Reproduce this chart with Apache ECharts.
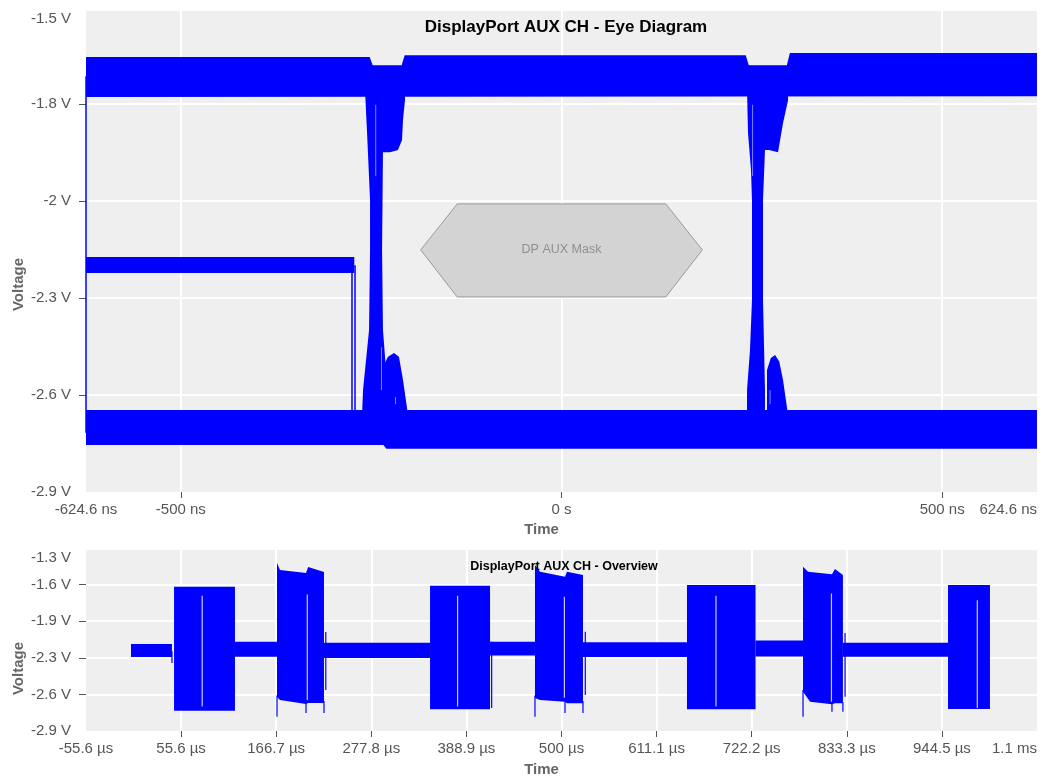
<!DOCTYPE html>
<html><head><meta charset="utf-8">
<script src="https://cdn.jsdelivr.net/npm/echarts@6/dist/echarts.min.js"></script>
<style>html,body{margin:0;padding:0;background:#fff}#c{width:1045px;height:778px}</style>
</head><body><div id="c"></div>
<script>
// ---------- Eye diagram (time in ns, voltage in V) ----------
const eyeXRange = [-624.6, 624.6];
const eyeYRange = [-2.866, -1.517];
const eyeXTicks = [-500, 0, 500];
const eyeXLabelVals = [-624.6, -500, 0, 500, 624.6];
const eyeXLabels = ['-624.6 ns', '-500 ns', '0 s', '500 ns', '624.6 ns'];
const eyeYTicks = [-2.594, -2.322, -2.05, -1.778];
const eyeYLabelVals = [-2.866, -2.594, -2.322, -2.05, -1.778, -1.517];
const eyeYLabels = ['-2.9 V', '-2.6 V', '-2.3 V', '-2 V', '-1.8 V', '-1.5 V'];

const eyeUpperRail = [[-624.6,-1.646],[-252,-1.646],[-248,-1.669],[-210,-1.669],[-206,-1.641],[242,-1.641],[246,-1.669],[296,-1.669],[300,-1.635],[624.6,-1.635],[624.6,-1.756],[-624.6,-1.758]];
const eyeLowerRail = [[-624.6,-2.636],[624.6,-2.636],[624.6,-2.745],[-230,-2.745],[-234,-2.734],[-624.6,-2.734]];
const eyeIdleBand = [[-624.6,-2.207],[-272.2,-2.207],[-272.2,-2.252],[-624.6,-2.252]];
const eyeEdge1 = [[-258.1,-1.739],[-234.5,-1.739],[-234.5,-1.907],[-235.7,-2.187],[-234.5,-2.412],[-230.5,-2.524],[-230.5,-2.650],[-262.0,-2.650],[-260.7,-2.580],[-252.8,-2.412],[-251.5,-2.187],[-251.5,-2.047],[-255.4,-1.859]];
const eyeRingTop1 = [[-234.5,-1.739],[-205.6,-1.739],[-205.6,-1.767],[-208.2,-1.823],[-209.5,-1.879],[-214.8,-1.907],[-225.3,-1.913],[-234.5,-1.913]];
const eyeRingBot1 = [[-233.2,-2.650],[-233.2,-2.510],[-227.9,-2.487],[-220.0,-2.476],[-213.5,-2.487],[-208.2,-2.552],[-201.6,-2.650]];
const eyeEdge2 = [[243.7,-1.739],[267.3,-1.739],[267.3,-1.907],[264.7,-2.047],[264.7,-2.328],[267.3,-2.580],[267.3,-2.650],[243.7,-2.650],[243.7,-2.580],[247.6,-2.468],[250.2,-2.328],[250.2,-2.047],[248.9,-1.963],[245.0,-1.859]];
const eyeRingTop2 = [[267.3,-1.739],[297.6,-1.739],[297.6,-1.767],[291.0,-1.831],[284.4,-1.913],[272.6,-1.907],[267.3,-1.907]];
const eyeRingBot2 = [[269.9,-2.650],[269.9,-2.524],[275.0,-2.490],[280.5,-2.482],[286.0,-2.500],[291.0,-2.552],[297.6,-2.650]];
// thin vertical traces: [time, vTop, vBottom]
const eyeThinLines = [[-624.6,-1.70,-2.70],[-275.2,-2.23,-2.64],[-271.2,-2.23,-2.64]];
// light gaps inside the edges: [time, vTop, vBottom]
const eyeGapLines = [[-244.0,-1.78,-1.98],[-236.5,-2.46,-2.58],[-218.0,-2.60,-2.62],[251.0,-1.78,-1.98],[274.0,-2.58,-2.62]];
const maskPoly = [[-185,-2.187],[-137,-2.058],[137,-2.058],[185,-2.187],[137,-2.319],[-137,-2.319]];
const maskLabel = 'DP AUX Mask';

// ---------- Overview (time in µs, voltage in V) ----------
const ovXRange = [-55.556, 1055.556];
const ovYRange = [-2.92, -1.288];
const ovXTicks = [55.556, 166.667, 277.778, 388.889, 500, 611.111, 722.222, 833.333, 944.444];
const ovXLabelVals = [-55.556, 55.556, 166.667, 277.778, 388.889, 500, 611.111, 722.222, 833.333, 944.444, 1055.556];
const ovXLabels = ['-55.6 µs','55.6 µs','166.7 µs','277.8 µs','388.9 µs','500 µs','611.1 µs','722.2 µs','833.3 µs','944.5 µs','1.1 ms'];
const ovYTicks = [-2.59, -2.26, -1.93, -1.60];
const ovYLabelVals = [-2.92, -2.59, -2.26, -1.93, -1.60, -1.288];
const ovYLabels = ['-2.9 V','-2.6 V','-2.3 V','-1.9 V','-1.6 V','-1.3 V'];

// idle bands: [tStart, tEnd, vTop, vBottom]
const ovIdle = [[-2.98,44.9,-2.136,-2.253],[118.5,167.6,-2.115,-2.250],[222.5,346.4,-2.124,-2.262],[416.5,469.0,-2.115,-2.240],[525.1,646.6,-2.120,-2.253],[726.7,782.2,-2.105,-2.248],[828.8,951.6,-2.124,-2.250]];
const ovBurst1 = [[47.3,-1.619],[118.5,-1.619],[118.5,-2.737],[47.3,-2.737]];
const ovBurst2 = [[167.6,-1.405],[171.1,-1.468],[201.5,-1.495],[204.0,-1.441],[222.5,-1.486],[222.5,-2.668],[204.0,-2.668],[201.5,-2.677],[171.1,-2.640],[167.6,-2.613]];
const ovBurst3 = [[346.4,-1.610],[416.5,-1.610],[416.5,-2.724],[346.4,-2.724]];
const ovBurst4 = [[469.0,-1.423],[474.9,-1.484],[504.1,-1.529],[506.4,-1.484],[525.1,-1.513],[525.1,-2.670],[506.4,-2.670],[504.1,-2.656],[474.9,-2.640],[469.0,-2.622]];
const ovBurst5 = [[646.6,-1.604],[726.7,-1.604],[726.7,-2.724],[646.6,-2.724]];
const ovBurst6 = [[782.2,-1.439],[788.0,-1.484],[816.0,-1.507],[819.5,-1.459],[828.8,-1.513],[828.8,-2.670],[819.5,-2.670],[816.0,-2.679],[790.4,-2.656],[782.2,-2.566]];
const ovBurst7 = [[951.6,-1.604],[1000.6,-1.604],[1000.6,-2.722],[951.6,-2.722]];
// thin blue spikes / slivers: [time, vTop, vBottom]
const ovThinLines = [[44.9,-2.20,-2.307],[167.6,-2.60,-2.791],[201.5,-2.65,-2.758],[222.5,-2.65,-2.758],[224.6,-2.027,-2.55],[418.4,-2.115,-2.713],[469.0,-2.60,-2.791],[504.1,-2.64,-2.758],[525.1,-2.65,-2.758],[527.8,-2.025,-2.595],[782.2,-2.55,-2.791],[816.0,-2.66,-2.746],[828.8,-2.66,-2.746],[831.3,-2.036,-2.611]];
// light gaps inside bursts: [time, vTop, vBottom]
const ovGapLines = [[80.2,-1.70,-2.70],[203.0,-1.69,-2.64],[378.6,-1.70,-2.70],[503.4,-1.71,-2.62],[680.5,-1.70,-2.70],[815.4,-1.68,-2.656],[985.8,-1.74,-2.713]];

// ---------- build ----------
const FONT = '"Liberation Sans", Arial, sans-serif';
const BLUE = '#0000ff';
function labelFor(vals, strs){
  return function(v){ let b=0; for(let i=1;i<vals.length;i++){ if(Math.abs(vals[i]-v)<Math.abs(vals[b]-v)) b=i; } return strs[b]; };
}
function polySeries(points, ai, fill, stroke){
  return {type:'custom', xAxisIndex:ai, yAxisIndex:ai, data:points, silent:true, animation:false, z:2,
    renderItem:function(params, api){
      if(params.dataIndex!==0) return null;
      return {type:'polygon', shape:{points:points.map(p=>api.coord(p))},
        style:{fill:fill, stroke:stroke||null, lineWidth:stroke?1:0}};
    }};
}
function vlineSeries(rows, ai, color, width, z){
  return {type:'custom', xAxisIndex:ai, yAxisIndex:ai, data:rows, silent:true, animation:false, z:z,
    encode:{x:0, y:[1,2]},
    renderItem:function(params, api){
      const a=api.coord([api.value(0), api.value(1)]);
      const b=api.coord([api.value(0), api.value(2)]);
      return {type:'line', shape:{x1:a[0],y1:a[1],x2:b[0],y2:b[1]}, style:{stroke:color, lineWidth:width}};
    }};
}
function rectSeries(rows, ai){
  return {type:'custom', xAxisIndex:ai, yAxisIndex:ai, data:rows, silent:true, animation:false, z:2,
    encode:{x:[0,1], y:[2,3]},
    renderItem:function(params, api){
      const a=api.coord([api.value(0), api.value(2)]);
      const b=api.coord([api.value(1), api.value(3)]);
      return {type:'rect', shape:{x:a[0], y:a[1], width:b[0]-a[0], height:b[1]-a[1]}, style:{fill:BLUE}};
    }};
}
function xAxisCfg(gi, range, ticks, lvals, lstrs, nameGap){
  return {type:'value', gridIndex:gi, min:range[0], max:range[1],
    name:'Time', nameLocation:'middle', nameGap:nameGap,
    nameTextStyle:{color:'#666', fontWeight:'bold', fontSize:15, fontFamily:FONT, padding:[0,40,0,0]},
    axisLine:{show:false, onZero:false},
    axisTick:{show:true, customValues:ticks, length:6, lineStyle:{color:'#555', width:1}},
    axisLabel:{customValues:lvals, formatter:labelFor(lvals,lstrs), color:'#555', fontSize:15, fontFamily:FONT, margin:10,
      alignMinLabel:'center', alignMaxLabel:'right'},
    splitLine:{show:true, lineStyle:{color:'#ffffff', width:2}}};
}
function yAxisCfg(gi, range, ticks, lvals, lstrs, shiftPad){
  return {type:'value', gridIndex:gi, min:range[0], max:range[1],
    name:'Voltage', nameLocation:'middle', nameGap:60, nameMoveOverlap:false,
    nameTextStyle:{color:'#666', fontWeight:'bold', fontSize:15, fontFamily:FONT, padding:[0,shiftPad,0,0]},
    axisLine:{show:false, onZero:false},
    axisTick:{show:true, customValues:ticks, length:7, lineStyle:{color:'#555', width:1}},
    axisLabel:{customValues:lvals, formatter:labelFor(lvals,lstrs), color:'#555', fontSize:15, fontFamily:FONT, margin:15,
      verticalAlignMaxLabel:'top', verticalAlignMinLabel:'middle'},
    splitLine:{show:true, lineStyle:{color:'#ffffff', width:2}}};
}

const chart = echarts.init(document.getElementById('c'), null, {renderer:'canvas'});
const series = [
  polySeries(maskPoly, 0, '#d3d3d3', '#9a9a9a'),
  polySeries(eyeUpperRail, 0, BLUE),
  polySeries(eyeLowerRail, 0, BLUE),
  polySeries(eyeIdleBand, 0, BLUE),
  polySeries(eyeEdge1, 0, BLUE),
  polySeries(eyeRingTop1, 0, BLUE),
  polySeries(eyeRingBot1, 0, BLUE),
  polySeries(eyeEdge2, 0, BLUE),
  polySeries(eyeRingTop2, 0, BLUE),
  polySeries(eyeRingBot2, 0, BLUE),
  vlineSeries(eyeThinLines, 0, BLUE, 1.5, 3),
  vlineSeries(eyeGapLines, 0, '#8080ff', 1, 4),
  rectSeries(ovIdle, 1),
  polySeries(ovBurst1, 1, BLUE),
  polySeries(ovBurst2, 1, BLUE),
  polySeries(ovBurst3, 1, BLUE),
  polySeries(ovBurst4, 1, BLUE),
  polySeries(ovBurst5, 1, BLUE),
  polySeries(ovBurst6, 1, BLUE),
  polySeries(ovBurst7, 1, BLUE),
  vlineSeries(ovThinLines, 1, BLUE, 1.2, 3),
  vlineSeries(ovGapLines, 1, '#c8c8ff', 1.2, 4)
];
// mask label as a scatter point through the scales
series.push({type:'scatter', xAxisIndex:0, yAxisIndex:0, data:[[0, maskPoly[0][1]]], symbolSize:0, silent:true, z:5,
  label:{show:true, position:'inside', formatter:maskLabel, color:'#808080', fontSize:12.5, fontFamily:FONT}});

chart.setOption({
  animation:false,
  backgroundColor:'#ffffff',
  title:[
    {text:'DisplayPort AUX CH - Eye Diagram', left:561, top:14, textAlign:'center',
     textStyle:{fontSize:17, fontWeight:'bold', color:'#000', fontFamily:FONT}},
    {text:'DisplayPort AUX CH - Overview', left:559, top:555, textAlign:'center',
     textStyle:{fontSize:12.5, fontWeight:'bold', color:'#000', fontFamily:FONT}}
  ],
  grid:[
    {left:86, right:8, top:11, bottom:286, show:true, backgroundColor:'#efefef', borderWidth:0, outerBoundsMode:'none', containLabel:false},
    {left:86, right:8, top:550, bottom:47, show:true, backgroundColor:'#efefef', borderWidth:0, outerBoundsMode:'none', containLabel:false}
  ],
  xAxis:[
    xAxisCfg(0, eyeXRange, eyeXTicks, eyeXLabelVals, eyeXLabels, 29),
    xAxisCfg(1, ovXRange, ovXTicks, ovXLabelVals, ovXLabels, 31)
  ],
  yAxis:[
    yAxisCfg(0, eyeYRange, eyeYTicks, eyeYLabelVals, eyeYLabels, 66),
    yAxisCfg(1, ovYRange, ovYTicks, ovYLabelVals, ovYLabels, 56)
  ],
  series:series
});
</script></body></html>
